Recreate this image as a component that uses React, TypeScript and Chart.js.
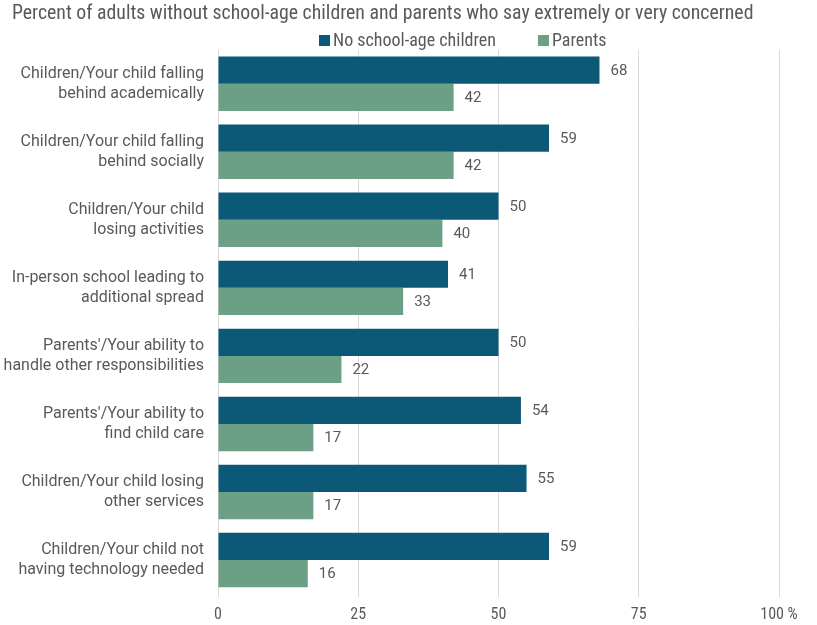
import React, { useEffect, useRef } from "react";
import { Chart, registerables } from "chart.js";

Chart.register(...registerables);

const categories: string[][] = [
  ["Children/Your child falling", "behind academically"],
  ["Children/Your child falling", "behind socially"],
  ["Children/Your child", "losing activities"],
  ["In-person school leading to", "additional spread"],
  ["Parents'/Your ability to", "handle other responsibilities"],
  ["Parents'/Your ability to", "find child care"],
  ["Children/Your child losing", "other services"],
  ["Children/Your child not", "having technology needed"],
];
const noSchoolAge = [68, 59, 50, 41, 50, 54, 55, 59];
const parents = [42, 42, 40, 33, 22, 17, 17, 16];
const seriesNames = ["No school-age children", "Parents"];
const seriesColors = ["#0b5877", "#6b9f86"];
const xTicks = [0, 25, 50, 75, 100];
const titleText =
  "Percent of adults without school-age children and parents who say extremely or very concerned";

const TEXT = "#595959";
const CONDENSED = "'Roboto Condensed', 'Liberation Sans Narrow', 'Arial Narrow', Roboto, sans-serif";

const valueLabels = {
  id: "valueLabels",
  afterDatasetsDraw(chart: any) {
    const ctx = chart.ctx;
    ctx.save();
    ctx.font = "15px Roboto, sans-serif";
    ctx.fillStyle = TEXT;
    ctx.textBaseline = "middle";
    ctx.textAlign = "left";
    chart.data.datasets.forEach((ds: any, i: number) => {
      const meta = chart.getDatasetMeta(i);
      meta.data.forEach((bar: any, j: number) => {
        ctx.fillText(String(ds.data[j]), bar.x + 11, bar.y + 1);
      });
    });
    ctx.restore();
  },
};

const titleShift = {
  id: "titleShift",
  afterLayout(chart: any) {
    if (chart.titleBlock) {
      chart.titleBlock.left += 12;
      chart.titleBlock.right += 12;
    }
  },
};

const customLegend = {
  id: "customLegend",
  afterDraw(chart: any) {
    const ctx = chart.ctx;
    const area = chart.chartArea;
    ctx.save();
    ctx.font = "18px " + CONDENSED;
    ctx.textBaseline = "middle";
    ctx.textAlign = "left";
    let x = area.left + 101;
    const y = 40;
    chart.data.datasets.forEach((ds: any, i: number) => {
      ctx.fillStyle = ds.backgroundColor;
      ctx.fillRect(x, y - 5, 11, 11);
      ctx.fillStyle = TEXT;
      ctx.fillText(ds.label, x + 14, y + 1);
      x += 14 + ctx.measureText(ds.label).width + 42;
    });
    ctx.restore();
  },
};

export default function App() {
  const ref = useRef<HTMLCanvasElement>(null);
  useEffect(() => {
    document.body.style.margin = "0";
    const chart = new Chart(ref.current!, {
      type: "bar",
      data: {
        labels: categories,
        datasets: [
          {
            label: seriesNames[0],
            data: noSchoolAge,
            backgroundColor: seriesColors[0],
            barPercentage: 1.0,
            categoryPercentage: 0.8,
          },
          {
            label: seriesNames[1],
            data: parents,
            backgroundColor: seriesColors[1],
            barPercentage: 1.0,
            categoryPercentage: 0.8,
          },
        ],
      },
      options: {
        indexAxis: "y",
        animation: false,
        responsive: false,
        maintainAspectRatio: false,
        layout: { padding: { left: 0, right: 38, top: 0, bottom: 0 } },
        plugins: {
          legend: { display: false },
          tooltip: { enabled: false },
          title: {
            display: true,
            text: titleText,
            align: "start",
            color: TEXT,
            font: { family: CONDENSED, size: 19.8, weight: "normal" },
            padding: { top: 2, bottom: 24 },
          },
        },
        scales: {
          x: {
            min: 0,
            max: 100,
            afterBuildTicks(scale: any) {
              scale.ticks = xTicks.map((v) => ({ value: v }));
            },
            afterFit(scale: any) {
              scale.height = 31;
            },
            ticks: {
              color: TEXT,
              font: { family: CONDENSED, size: 16 },
              padding: 8,
              callback: (v: any) => (Number(v) === 100 ? "100 %" : String(v)),
            },
            grid: { color: "#d9d9d9", tickLength: 3, drawTicks: true, lineWidth: 1 },
            border: { display: false },
          },
          y: {
            afterFit(scale: any) {
              scale.width = 218;
              scale.paddingTop = 0;
              scale.paddingBottom = 0;
            },
            ticks: {
              color: TEXT,
              font: { family: "Roboto, sans-serif", size: 16, lineHeight: 1.25 },
              padding: 14,
            },
            grid: { display: false, drawTicks: false },
            border: { display: false },
          },
        },
      },
      plugins: [titleShift, valueLabels, customLegend],
    });
    return () => chart.destroy();
  }, []);
  return (
    <div style={{ width: 817, height: 625 }}>
      <canvas ref={ref} width={817} height={625} style={{ width: 817, height: 625 }} />
    </div>
  );
}
